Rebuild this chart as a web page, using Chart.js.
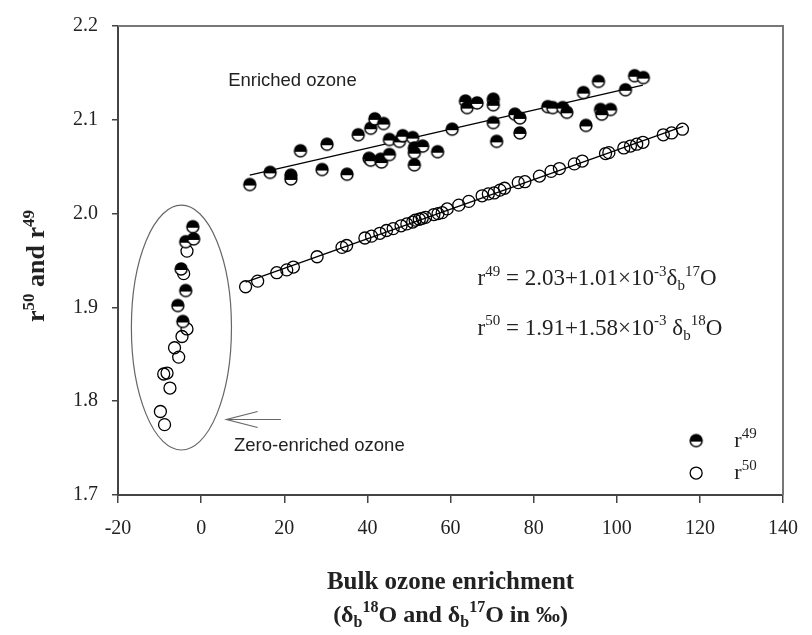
<!DOCTYPE html>
<html>
<head>
<meta charset="utf-8">
<script src="https://cdn.jsdelivr.net/npm/chart.js@4.4.0/dist/chart.umd.min.js"></script>
<style>
  body { margin: 0; background: #fff; }
  canvas { display: block; }
</style>
</head>
<body>
<canvas id="chart" width="812" height="635"></canvas>
<script>
// r49 (half filled markers): zero-enriched cluster + enriched ozone
const r49X = [-2.0, -3.7, -1.8, -4.8, -3.7, -5.6, -4.4,
  11.7, 16.6, 21.6, 21.6, 23.9, 29.1, 30.3, 35.1, 37.8, 40.8, 41.8, 43.9, 40.4, 40.8,
  43.2, 43.4, 45.3, 45.3, 47.7, 48.5, 50.9, 51.3, 53.3, 51.3, 51.3, 56.9, 60.4, 63.6,
  64.0, 66.4, 70.3, 70.3, 70.3, 71.1, 75.5, 76.7, 76.7, 83.4, 84.6, 87.0, 88.0, 92.0,
  92.6, 95.6, 96.1, 98.5, 96.4, 102.1, 104.3, 106.4];
const r49Y = [1.986, 1.970, 1.973, 1.941, 1.918, 1.902, 1.885,
  2.031, 2.044, 2.041, 2.037, 2.067, 2.047, 2.074, 2.042, 2.084, 2.091, 2.101, 2.096, 2.059, 2.057,
  2.058, 2.055, 2.079, 2.063, 2.077, 2.083, 2.081, 2.070, 2.072, 2.065, 2.052, 2.066, 2.090, 2.120,
  2.113, 2.118, 2.122, 2.116, 2.097, 2.077, 2.106, 2.102, 2.086, 2.114, 2.113, 2.113, 2.108, 2.129,
  2.094, 2.141, 2.111, 2.111, 2.106, 2.132, 2.147, 2.145];

// r50 (open circles)
const r50X = [-3.4, -4.2, -3.4, -4.6, -6.4, -5.4, -9.0, -8.2, -7.5, -9.8, -8.8,
  10.7, 13.6, 18.2, 20.6, 22.2, 27.9, 33.9, 35.0, 39.4, 41.0, 43.0, 44.6, 46.2, 48.1,
  49.5, 50.9, 51.5, 52.5, 53.2, 54.0, 56.0, 57.0, 58.0, 59.2, 62.0, 64.4, 67.6, 69.1,
  70.5, 71.9, 73.0, 76.3, 77.9, 81.4, 84.2, 86.2, 89.8, 91.7, 97.3, 98.1, 101.7, 103.3,
  104.8, 106.3, 111.2, 113.2, 115.8];
const r50Y = [1.960, 1.936, 1.877, 1.869, 1.857, 1.847, 1.829, 1.830, 1.814, 1.789, 1.775,
  1.922, 1.928, 1.937, 1.940, 1.943, 1.954, 1.964, 1.966, 1.974, 1.976, 1.979, 1.982, 1.984, 1.987,
  1.989, 1.991, 1.993, 1.994, 1.995, 1.996, 1.999, 2.000, 2.001, 2.005, 2.009, 2.013, 2.019, 2.021,
  2.022, 2.025, 2.027, 2.033, 2.034, 2.040, 2.045, 2.048, 2.053, 2.056, 2.064, 2.065, 2.070, 2.072,
  2.074, 2.076, 2.084, 2.086, 2.090];

// regression lines (end points)
const fit49X = [11.7, 106.3];
const fit49Y = [2.041, 2.137];
const fit50X = [10.7, 116.0];
const fit50Y = [1.927, 2.093];

const xTicks = [-20, 0, 20, 40, 60, 80, 100, 120, 140];
const yTicks = [1.7, 1.8, 1.9, 2.0, 2.1, 2.2];

const toPts = (xs, ys) => xs.map((x, i) => ({ x: x, y: ys[i] }));

const SERIF = '"Liberation Serif", "Times New Roman", serif';
const SANS = '"Liberation Sans", Arial, sans-serif';
const R = 6;

// half filled marker (top half black)
function halfMarker(r) {
  const c = document.createElement('canvas');
  const s = Math.ceil(r * 2 + 4);
  c.width = s; c.height = s;
  const g = c.getContext('2d');
  const m = s / 2;
  g.beginPath(); g.arc(m, m, r, 0, Math.PI * 2); g.fillStyle = '#fff'; g.fill();
  g.beginPath();
  g.arc(m, m, r, Math.PI - 0.16, Math.PI * 2 + 0.16, false);
  g.closePath();
  g.fillStyle = '#000'; g.fill();
  g.beginPath(); g.arc(m, m, r, 0, Math.PI * 2);
  g.strokeStyle = '#000'; g.lineWidth = 1.4; g.stroke();
  return c;
}
const halfImg = halfMarker(R);

// rich text with super/subscripts
function partsWidth(ctx, parts, size, bold) {
  let w = 0;
  parts.forEach(p => {
    const sz = (p.sup || p.sub) ? Math.round(size * 0.66) : size;
    ctx.font = (bold ? 'bold ' : '') + sz + 'px ' + SERIF;
    w += ctx.measureText(p.t).width;
  });
  return w;
}
function drawParts(ctx, parts, x, y, size, bold) {
  let cx = x;
  ctx.textAlign = 'left';
  ctx.textBaseline = 'alphabetic';
  parts.forEach(p => {
    const sz = (p.sup || p.sub) ? Math.round(size * 0.66) : size;
    ctx.font = (bold ? 'bold ' : '') + sz + 'px ' + SERIF;
    const dy = p.sup ? -size * 0.4 : (p.sub ? size * 0.22 : 0);
    ctx.fillText(p.t, cx, y + dy);
    cx += ctx.measureText(p.t).width;
  });
}

const eq49 = [{ t: 'r' }, { t: '49', sup: true }, { t: ' = 2.03+1.01\u00d710' }, { t: '-3', sup: true },
  { t: '\u03b4' }, { t: 'b', sub: true }, { t: '17', sup: true }, { t: 'O' }];
const eq50 = [{ t: 'r' }, { t: '50', sup: true }, { t: ' = 1.91+1.58\u00d710' }, { t: '-3', sup: true },
  { t: ' \u03b4' }, { t: 'b', sub: true }, { t: '18', sup: true }, { t: 'O' }];

const decor = {
  id: 'decor',
  afterDatasetsDraw(chart) {
    const ctx = chart.ctx;
    const a = chart.chartArea;
    const xs = chart.scales.x, ys = chart.scales.y;
    const px = v => xs.getPixelForValue(v), py = v => ys.getPixelForValue(v);
    ctx.save();

    // top and right frame
    ctx.strokeStyle = '#777'; ctx.lineWidth = 2;
    ctx.beginPath();
    ctx.moveTo(a.left, a.top); ctx.lineTo(a.right, a.top); ctx.lineTo(a.right, a.bottom);
    ctx.stroke();

    // ellipse round the zero-enriched points
    ctx.strokeStyle = '#666'; ctx.lineWidth = 1.2;
    const cx = px(-4.74), cy = py(1.8785);
    ctx.beginPath();
    ctx.ellipse(cx, cy, px(7.3) - cx, cy - py(2.009), 0, 0, Math.PI * 2);
    ctx.stroke();

    // arrow
    ctx.beginPath();
    ctx.moveTo(px(19.2), py(1.7805)); ctx.lineTo(px(6.1), py(1.7805));
    ctx.moveTo(px(13.6), py(1.789)); ctx.lineTo(px(6.1), py(1.7805)); ctx.lineTo(px(13.6), py(1.772));
    ctx.stroke();

    // labels
    ctx.fillStyle = '#222';
    ctx.font = '18.5px ' + SANS;
    ctx.textAlign = 'left'; ctx.textBaseline = 'middle';
    ctx.fillText('Enriched ozone', px(6.5), py(2.141));
    ctx.fillText('Zero-enriched ozone', px(7.9), py(1.752));

    drawParts(ctx, eq49, px(66.5), py(1.9242), 23, false);
    drawParts(ctx, eq50, px(66.5), py(1.8711), 23, false);

    // legend
    ctx.drawImage(halfImg, px(119.1) - halfImg.width / 2, py(1.758) - halfImg.height / 2);
    ctx.beginPath(); ctx.arc(px(119.1), py(1.7234), R, 0, Math.PI * 2);
    ctx.strokeStyle = '#000'; ctx.lineWidth = 1.3; ctx.stroke();
    ctx.fillStyle = '#222';
    drawParts(ctx, [{ t: 'r' }, { t: '49', sup: true }], px(128.3), py(1.7515), 22, false);
    drawParts(ctx, [{ t: 'r' }, { t: '50', sup: true }], px(128.3), py(1.7175), 22, false);

    // axis titles
    const xt1 = 'Bulk ozone enrichment';
    ctx.font = 'bold 25px ' + SERIF;
    ctx.textAlign = 'center'; ctx.textBaseline = 'alphabetic';
    const mid = (a.left + a.right) / 2;
    ctx.fillText(xt1, mid, 589);
    const xt2 = [{ t: '(\u03b4' }, { t: 'b', sub: true }, { t: '18', sup: true }, { t: 'O and \u03b4' },
      { t: 'b', sub: true }, { t: '17', sup: true }, { t: 'O in \u2030)' }];
    const w2 = partsWidth(ctx, xt2, 24, true);
    drawParts(ctx, xt2, mid - w2 / 2, 622, 24, true);

    const yt = [{ t: 'r' }, { t: '50', sup: true }, { t: ' and r' }, { t: '49', sup: true }];
    const wy = partsWidth(ctx, yt, 26, true);
    ctx.translate(44, 266);
    ctx.rotate(-Math.PI / 2);
    drawParts(ctx, yt, -wy / 2, 0, 26, true);

    ctx.restore();
  }
};

new Chart(document.getElementById('chart'), {
  type: 'scatter',
  data: {
    datasets: [
      {
        label: 'r49',
        data: toPts(r49X, r49Y),
        pointStyle: halfImg,
        pointRadius: R,
        order: 0
      },
      {
        label: 'r50',
        data: toPts(r50X, r50Y),
        pointStyle: 'circle',
        pointRadius: R,
        pointBackgroundColor: 'rgba(0,0,0,0)',
        pointBorderColor: '#000',
        pointBorderWidth: 1.3,
        order: 1
      },
      {
        type: 'line',
        label: 'fit49',
        data: toPts(fit49X, fit49Y),
        borderColor: '#000',
        borderWidth: 1.3,
        pointRadius: 0,
        order: 2
      },
      {
        type: 'line',
        label: 'fit50',
        data: toPts(fit50X, fit50Y),
        borderColor: '#000',
        borderWidth: 1.3,
        pointRadius: 0,
        order: 2
      }
    ]
  },
  options: {
    responsive: false,
    animation: false,
    layout: { padding: { left: 0, top: 24, right: 21, bottom: 0 } },
    plugins: {
      legend: { display: false },
      tooltip: { enabled: false }
    },
    scales: {
      x: {
        type: 'linear',
        min: -20,
        max: 140,
        afterFit: s => { s.height = 140; },
        afterBuildTicks: s => { s.ticks = xTicks.map(v => ({ value: v })); },
        border: { display: true, color: '#444', width: 2 },
        grid: { drawOnChartArea: false, drawTicks: true, tickLength: 8, color: '#444', lineWidth: 1.5 },
        ticks: {
          color: '#222',
          padding: 14,
          maxRotation: 0,
          font: { family: SERIF, size: 20 },
          callback: v => String(v)
        }
      },
      y: {
        type: 'linear',
        min: 1.7,
        max: 2.2,
        afterFit: s => { s.width = 118; },
        afterBuildTicks: s => { s.ticks = yTicks.map(v => ({ value: v })); },
        border: { display: true, color: '#444', width: 2 },
        grid: { drawOnChartArea: false, drawTicks: true, tickLength: 6, color: '#444', lineWidth: 1.5 },
        ticks: {
          color: '#222',
          padding: 14,
          font: { family: SERIF, size: 20 },
          callback: v => v.toFixed(1)
        }
      }
    }
  },
  plugins: [decor]
});
</script>
</body>
</html>
